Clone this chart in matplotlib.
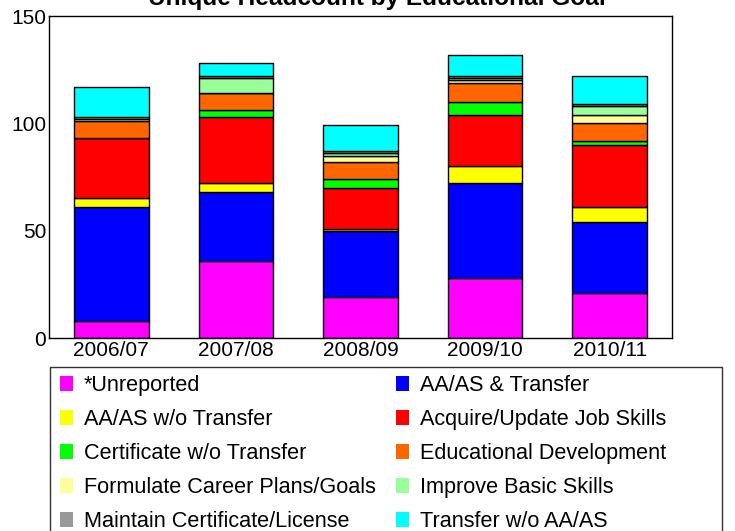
import matplotlib
matplotlib.use("Agg")
import matplotlib.pyplot as plt
from matplotlib.patches import Patch, Rectangle
import numpy as np

plt.rcParams['font.family'] = ['Liberation Sans', 'DejaVu Sans']

# academic years along the x axis
years = ["2006/07", "2007/08", "2008/09", "2009/10", "2010/11"]

# headcount per goal, bottom of the stack first
unreported = [8, 36, 19, 28, 21]
aa_transfer = [53, 32, 31, 44, 33]
aa_no_transfer = [4, 4, 1, 8, 7]
job_skills = [28, 31, 19, 24, 29]
certificate = [0, 3, 4, 6, 2]
educ_dev = [8, 8, 8, 9, 8]
career_plans = [1, 0, 3, 1, 4]
basic_skills = [1, 7, 1, 1, 4]
maintain_cert = [0, 1, 1, 1, 1]
transfer_no_aa = [14, 6, 12, 10, 13]

goal_names = ["*Unreported", "AA/AS & Transfer", "AA/AS w/o Transfer",
              "Acquire/Update Job Skills", "Certificate w/o Transfer",
              "Educational Development", "Formulate Career Plans/Goals",
              "Improve Basic Skills", "Maintain Certificate/License",
              "Transfer w/o AA/AS"]
goal_values = [unreported, aa_transfer, aa_no_transfer, job_skills, certificate,
               educ_dev, career_plans, basic_skills, maintain_cert, transfer_no_aa]
goal_colors = ["#FF00FF", "#0000FF", "#FFFF00", "#FF0000", "#00FF00",
               "#FF6600", "#FFFF99", "#99FF99", "#999999", "#00FFFF"]

W, H = 735, 531
fig = plt.figure(figsize=(W / 100, H / 100), dpi=100)
ax = fig.add_axes([49 / W, 1 - 338 / H, (672 - 49) / W, (338 - 16) / H])

x = np.arange(len(years))
bottom = np.zeros(len(years))
for vals, col in zip(goal_values, goal_colors):
    vals = np.array(vals, dtype=float)
    ax.bar(x, vals, width=0.6, bottom=bottom, color=col,
           edgecolor="black", linewidth=1)
    bottom += vals

ax.set_xlim(-0.5, len(years) - 0.5)
ax.set_ylim(0, 150)
ax.set_yticks([0, 50, 100, 150])
ax.set_xticks(x)
ax.set_xticklabels(years)
ax.tick_params(axis="both", length=0, labelsize=15)
ax.tick_params(axis="y", pad=2)
ax.tick_params(axis="x", pad=2)
for s in ax.spines.values():
    s.set_linewidth(1)

# title sits partly above the top edge, as in the original
fig.text(377 / W, 1 - 4.5 / H, "Unique Headcount by Educational Goal",
         ha="center", va="baseline", fontsize=17.6, fontweight="bold")

# legend, filled row by row like the original
order = [0, 2, 4, 6, 8, 1, 3, 5, 7, 9]
handles = [Patch(facecolor=goal_colors[i], edgecolor="none") for i in order]
labels = [goal_names[i] for i in order]
fig.legend(handles, labels, ncol=2, loc="upper left",
           bbox_to_anchor=(60 / W, 1 - 375 / H), frameon=False,
           fontsize=15.6, handlelength=0.6, handleheight=0.65,
           handletextpad=0.5, labelspacing=0.6, columnspacing=0.94,
           borderpad=0, borderaxespad=0)
fig.patches.append(Rectangle((50 / W, -0.1), (722 - 50) / W, 0.1 + 1 - 367 / H,
                             transform=fig.transFigure, fill=False,
                             edgecolor="#333333", linewidth=1))

fig.savefig("out.png", dpi=100)
